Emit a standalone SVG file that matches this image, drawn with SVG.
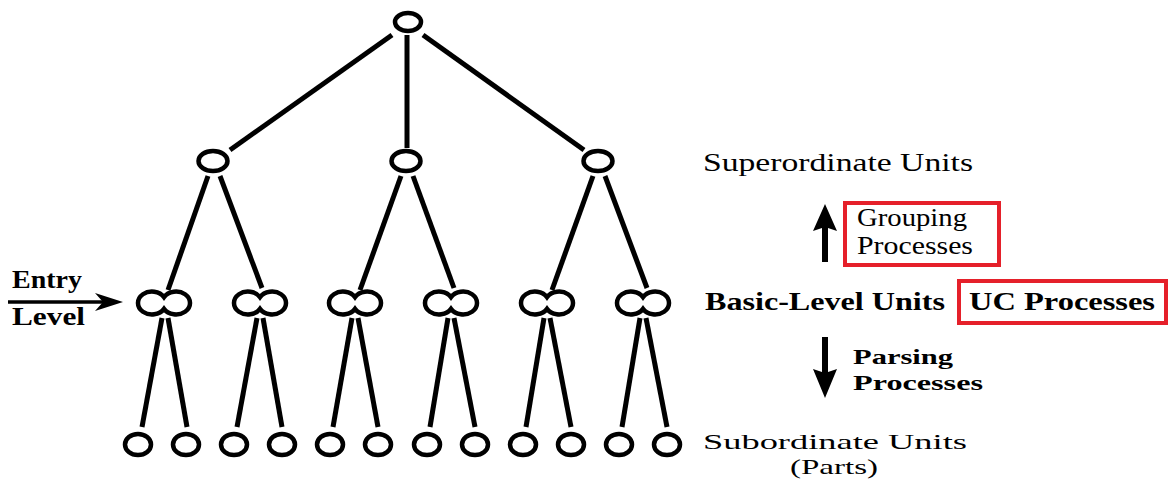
<svg xmlns="http://www.w3.org/2000/svg" width="1170" height="482" viewBox="0 0 1170 482">
<defs>
<style>
.n{fill:none;stroke:#000;stroke-width:4.5}
.e{stroke:#000;stroke-width:5;stroke-linecap:butt;fill:none}
.t{font-family:"Liberation Serif","Times New Roman",serif;font-size:25px;fill:#000}
.s{font-size:22px}
.b{font-weight:bold}
.box{fill:none;stroke:#e5202a;stroke-width:4}
</style>
<path id="dbl" d="M0,-5.9 A14,11.5 0 1 0 0,5.9 A14,11.5 0 1 0 0,-5.9 Z"/>
</defs>
<rect width="1170" height="482" fill="#fff"/>

<g id="connectors">
<line class="e" x1="392" y1="35" x2="230" y2="150"/>
<line class="e" x1="407" y1="35" x2="407" y2="148"/>
<line class="e" x1="423" y1="35" x2="584" y2="150"/>

<line class="e" x1="208" y1="176" x2="168" y2="290"/>
<line class="e" x1="220" y1="176" x2="262" y2="288"/>
<line class="e" x1="401" y1="176" x2="360" y2="290"/>
<line class="e" x1="413" y1="176" x2="454" y2="288"/>
<line class="e" x1="593" y1="176" x2="552" y2="290"/>
<line class="e" x1="605" y1="176" x2="647" y2="288"/>

<line class="e" x1="162" y1="318" x2="142" y2="427"/>
<line class="e" x1="168" y1="318" x2="187" y2="427"/>
<line class="e" x1="257" y1="318" x2="237" y2="427"/>
<line class="e" x1="263" y1="318" x2="282" y2="427"/>
<line class="e" x1="352" y1="318" x2="333" y2="427"/>
<line class="e" x1="358" y1="318" x2="378" y2="427"/>
<line class="e" x1="448" y1="318" x2="430" y2="427"/>
<line class="e" x1="454" y1="318" x2="475" y2="427"/>
<line class="e" x1="544" y1="318" x2="526" y2="427"/>
<line class="e" x1="550" y1="318" x2="571" y2="427"/>
<line class="e" x1="640" y1="318" x2="622" y2="427"/>
<line class="e" x1="646" y1="318" x2="667" y2="427"/>
</g>

<g id="root"><ellipse class="n" cx="408" cy="22" rx="13" ry="9"/></g>

<g id="super-1"><ellipse class="n" cx="213" cy="161" rx="14.5" ry="10"/></g>
<g id="super-2"><ellipse class="n" cx="406" cy="161" rx="14.5" ry="10"/></g>
<g id="super-3"><ellipse class="n" cx="598" cy="161" rx="14.5" ry="10"/></g>

<g id="basic-1"><use href="#dbl" class="n" x="164" y="303"/></g>
<g id="basic-2"><use href="#dbl" class="n" x="260" y="303"/></g>
<g id="basic-3"><use href="#dbl" class="n" x="355" y="303"/></g>
<g id="basic-4"><use href="#dbl" class="n" x="451" y="303"/></g>
<g id="basic-5"><use href="#dbl" class="n" x="547" y="303"/></g>
<g id="basic-6"><use href="#dbl" class="n" x="643" y="303"/></g>

<g id="sub-1"><ellipse class="n" cx="138" cy="444.5" rx="13" ry="10.5"/></g>
<g id="sub-2"><ellipse class="n" cx="186" cy="444.5" rx="13" ry="10.5"/></g>
<g id="sub-3"><ellipse class="n" cx="234" cy="444.5" rx="13" ry="10.5"/></g>
<g id="sub-4"><ellipse class="n" cx="282" cy="444.5" rx="13" ry="10.5"/></g>
<g id="sub-5"><ellipse class="n" cx="330" cy="444.5" rx="13" ry="10.5"/></g>
<g id="sub-6"><ellipse class="n" cx="378" cy="444.5" rx="13" ry="10.5"/></g>
<g id="sub-7"><ellipse class="n" cx="427" cy="444.5" rx="13" ry="10.5"/></g>
<g id="sub-8"><ellipse class="n" cx="475" cy="444.5" rx="13" ry="10.5"/></g>
<g id="sub-9"><ellipse class="n" cx="523" cy="444.5" rx="13" ry="10.5"/></g>
<g id="sub-10"><ellipse class="n" cx="571" cy="444.5" rx="13" ry="10.5"/></g>
<g id="sub-11"><ellipse class="n" cx="619" cy="444.5" rx="13" ry="10.5"/></g>
<g id="sub-12"><ellipse class="n" cx="667" cy="444.5" rx="13" ry="10.5"/></g>

<g id="entry-level">
<text class="t b" x="12" y="288" textLength="70" lengthAdjust="spacingAndGlyphs" font-size="22">Entry</text>
<line x1="8" y1="302" x2="110" y2="302" stroke="#000" stroke-width="3.5"/>
<path d="M123,302 L95,293 L103,302 L95,311 Z" fill="#000"/>
<text class="t b" x="12" y="325" textLength="73" lengthAdjust="spacingAndGlyphs" font-size="22">Level</text>
</g>

<g id="label-super">
<text class="t" x="703" y="171" textLength="270" lengthAdjust="spacingAndGlyphs">Superordinate Units</text>
</g>

<g id="grouping">
<rect class="box" x="845" y="203" width="154" height="62"/>
<path d="M822,262 L822,228 L813,231 L825,204 L837,231 L828,228 L828,262 Z" fill="#000"/>
<text class="t" x="857" y="226" textLength="110" lengthAdjust="spacingAndGlyphs">Grouping</text>
<text class="t" x="857" y="254" textLength="116" lengthAdjust="spacingAndGlyphs">Processes</text>
</g>

<g id="label-basic">
<text class="t b" x="705" y="310" textLength="240" lengthAdjust="spacingAndGlyphs">Basic-Level Units</text>
</g>

<g id="uc">
<rect class="box" x="959" y="281" width="207" height="42"/>
<text class="t b" x="969" y="310" textLength="186" lengthAdjust="spacingAndGlyphs">UC Processes</text>
</g>

<g id="parsing">
<path d="M822,337 L822,372 L813,369 L825,398 L837,369 L828,372 L828,337 Z" fill="#000"/>
<text class="t b s" x="853" y="364" textLength="100" lengthAdjust="spacingAndGlyphs">Parsing</text>
<text class="t b s" x="853" y="390" textLength="130" lengthAdjust="spacingAndGlyphs">Processes</text>
</g>

<g id="label-sub">
<text class="t s" x="703" y="449" textLength="264" lengthAdjust="spacingAndGlyphs">Subordinate Units</text>
<text class="t s" x="790" y="474" textLength="88" lengthAdjust="spacingAndGlyphs">(Parts)</text>
</g>
</svg>
